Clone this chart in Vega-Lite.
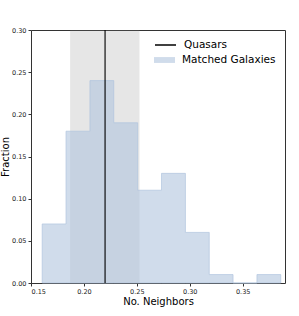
{
  "$schema": "https://vega.github.io/schema/vega-lite/v6.json",
  "width": 254,
  "height": 253,
  "autosize": {"type": "none"},
  "padding": {"left": 31, "top": 30, "right": 14, "bottom": 33},
  "background": "white",
  "config": {
    "font": "DejaVu Sans",
    "view": {"stroke": "#333", "strokeWidth": 1},
    "axis": {
      "domain": false,
      "grid": false,
      "labelFontSize": 6.5,
      "labelColor": "#222",
      "tickColor": "#333",
      "tickSize": 3,
      "labelPadding": 2,
      "titleFontSize": 10,
      "titleFontWeight": "normal",
      "titleColor": "#000"
    },
    "legend": {
      "labelFontSize": 10.5,
      "labelColor": "#000",
      "labelOffset": 7,
      "symbolSize": 441,
      "padding": 0
    }
  },
  "layer": [
    {
      "data": {"values": [{"lo": 0.187, "hi": 0.2525}]},
      "mark": {"type": "rect", "color": "#808080", "opacity": 0.2},
      "encoding": {
        "x": {"field": "lo", "type": "quantitative", "scale": {"domain": [0.15, 0.39], "nice": false, "zero": false}},
        "x2": {"field": "hi"}
      }
    },
    {
      "data": {"values": [
        {"edge": 0.1606, "frac": 0.07, "series": "Matched Galaxies"},
        {"edge": 0.1831, "frac": 0.18, "series": "Matched Galaxies"},
        {"edge": 0.2057, "frac": 0.24, "series": "Matched Galaxies"},
        {"edge": 0.2282, "frac": 0.19, "series": "Matched Galaxies"},
        {"edge": 0.2508, "frac": 0.11, "series": "Matched Galaxies"},
        {"edge": 0.2733, "frac": 0.13, "series": "Matched Galaxies"},
        {"edge": 0.2959, "frac": 0.06, "series": "Matched Galaxies"},
        {"edge": 0.3184, "frac": 0.01, "series": "Matched Galaxies"},
        {"edge": 0.3409, "frac": 0.0, "series": "Matched Galaxies"},
        {"edge": 0.3635, "frac": 0.01, "series": "Matched Galaxies"},
        {"edge": 0.386, "frac": 0.0, "series": "Matched Galaxies"}
      ]},
      "mark": {"type": "area", "interpolate": "step-after", "fillOpacity": 0.6, "stroke": "#b0c4de", "strokeOpacity": 0.7, "strokeWidth": 1},
      "encoding": {
        "x": {"field": "edge", "type": "quantitative", "scale": {"domain": [0.15, 0.39], "nice": false, "zero": false},
          "axis": {"values": [0.15, 0.2, 0.25, 0.3, 0.35], "format": ".2f", "title": "No. Neighbors", "titlePadding": 2}},
        "y": {"field": "frac", "type": "quantitative", "scale": {"domain": [0, 0.3], "nice": false},
          "axis": {"values": [0, 0.05, 0.1, 0.15, 0.2, 0.25, 0.3], "format": ".2f", "title": "Fraction", "titlePadding": 1}},
        "fill": {"field": "series", "type": "nominal",
          "scale": {"domain": ["Matched Galaxies"], "range": ["#b0c4de"]},
          "legend": {
            "title": null,
            "orient": "none",
            "legendX": 123,
            "legendY": 19.5,
            "symbolType": "M-1,-0.28H1V0.28H-1Z",
            "symbolOpacity": 0.6,
            "symbolStrokeWidth": 0
          }
        }
      }
    },
    {
      "data": {"values": [{"q": 0.22, "series": "Quasars"}]},
      "mark": {"type": "rule", "strokeWidth": 1.5, "opacity": 0.75},
      "encoding": {
        "x": {"field": "q", "type": "quantitative", "scale": {"domain": [0.15, 0.39], "nice": false, "zero": false}},
        "stroke": {"field": "series", "type": "nominal",
          "scale": {"domain": ["Quasars"], "range": ["#000000"]},
          "legend": {
            "title": null,
            "orient": "none",
            "legendX": 123,
            "legendY": 3.5,
            "symbolType": "stroke",
            "symbolStrokeWidth": 1.5,
            "symbolOpacity": 1
          }
        }
      }
    }
  ]
}
